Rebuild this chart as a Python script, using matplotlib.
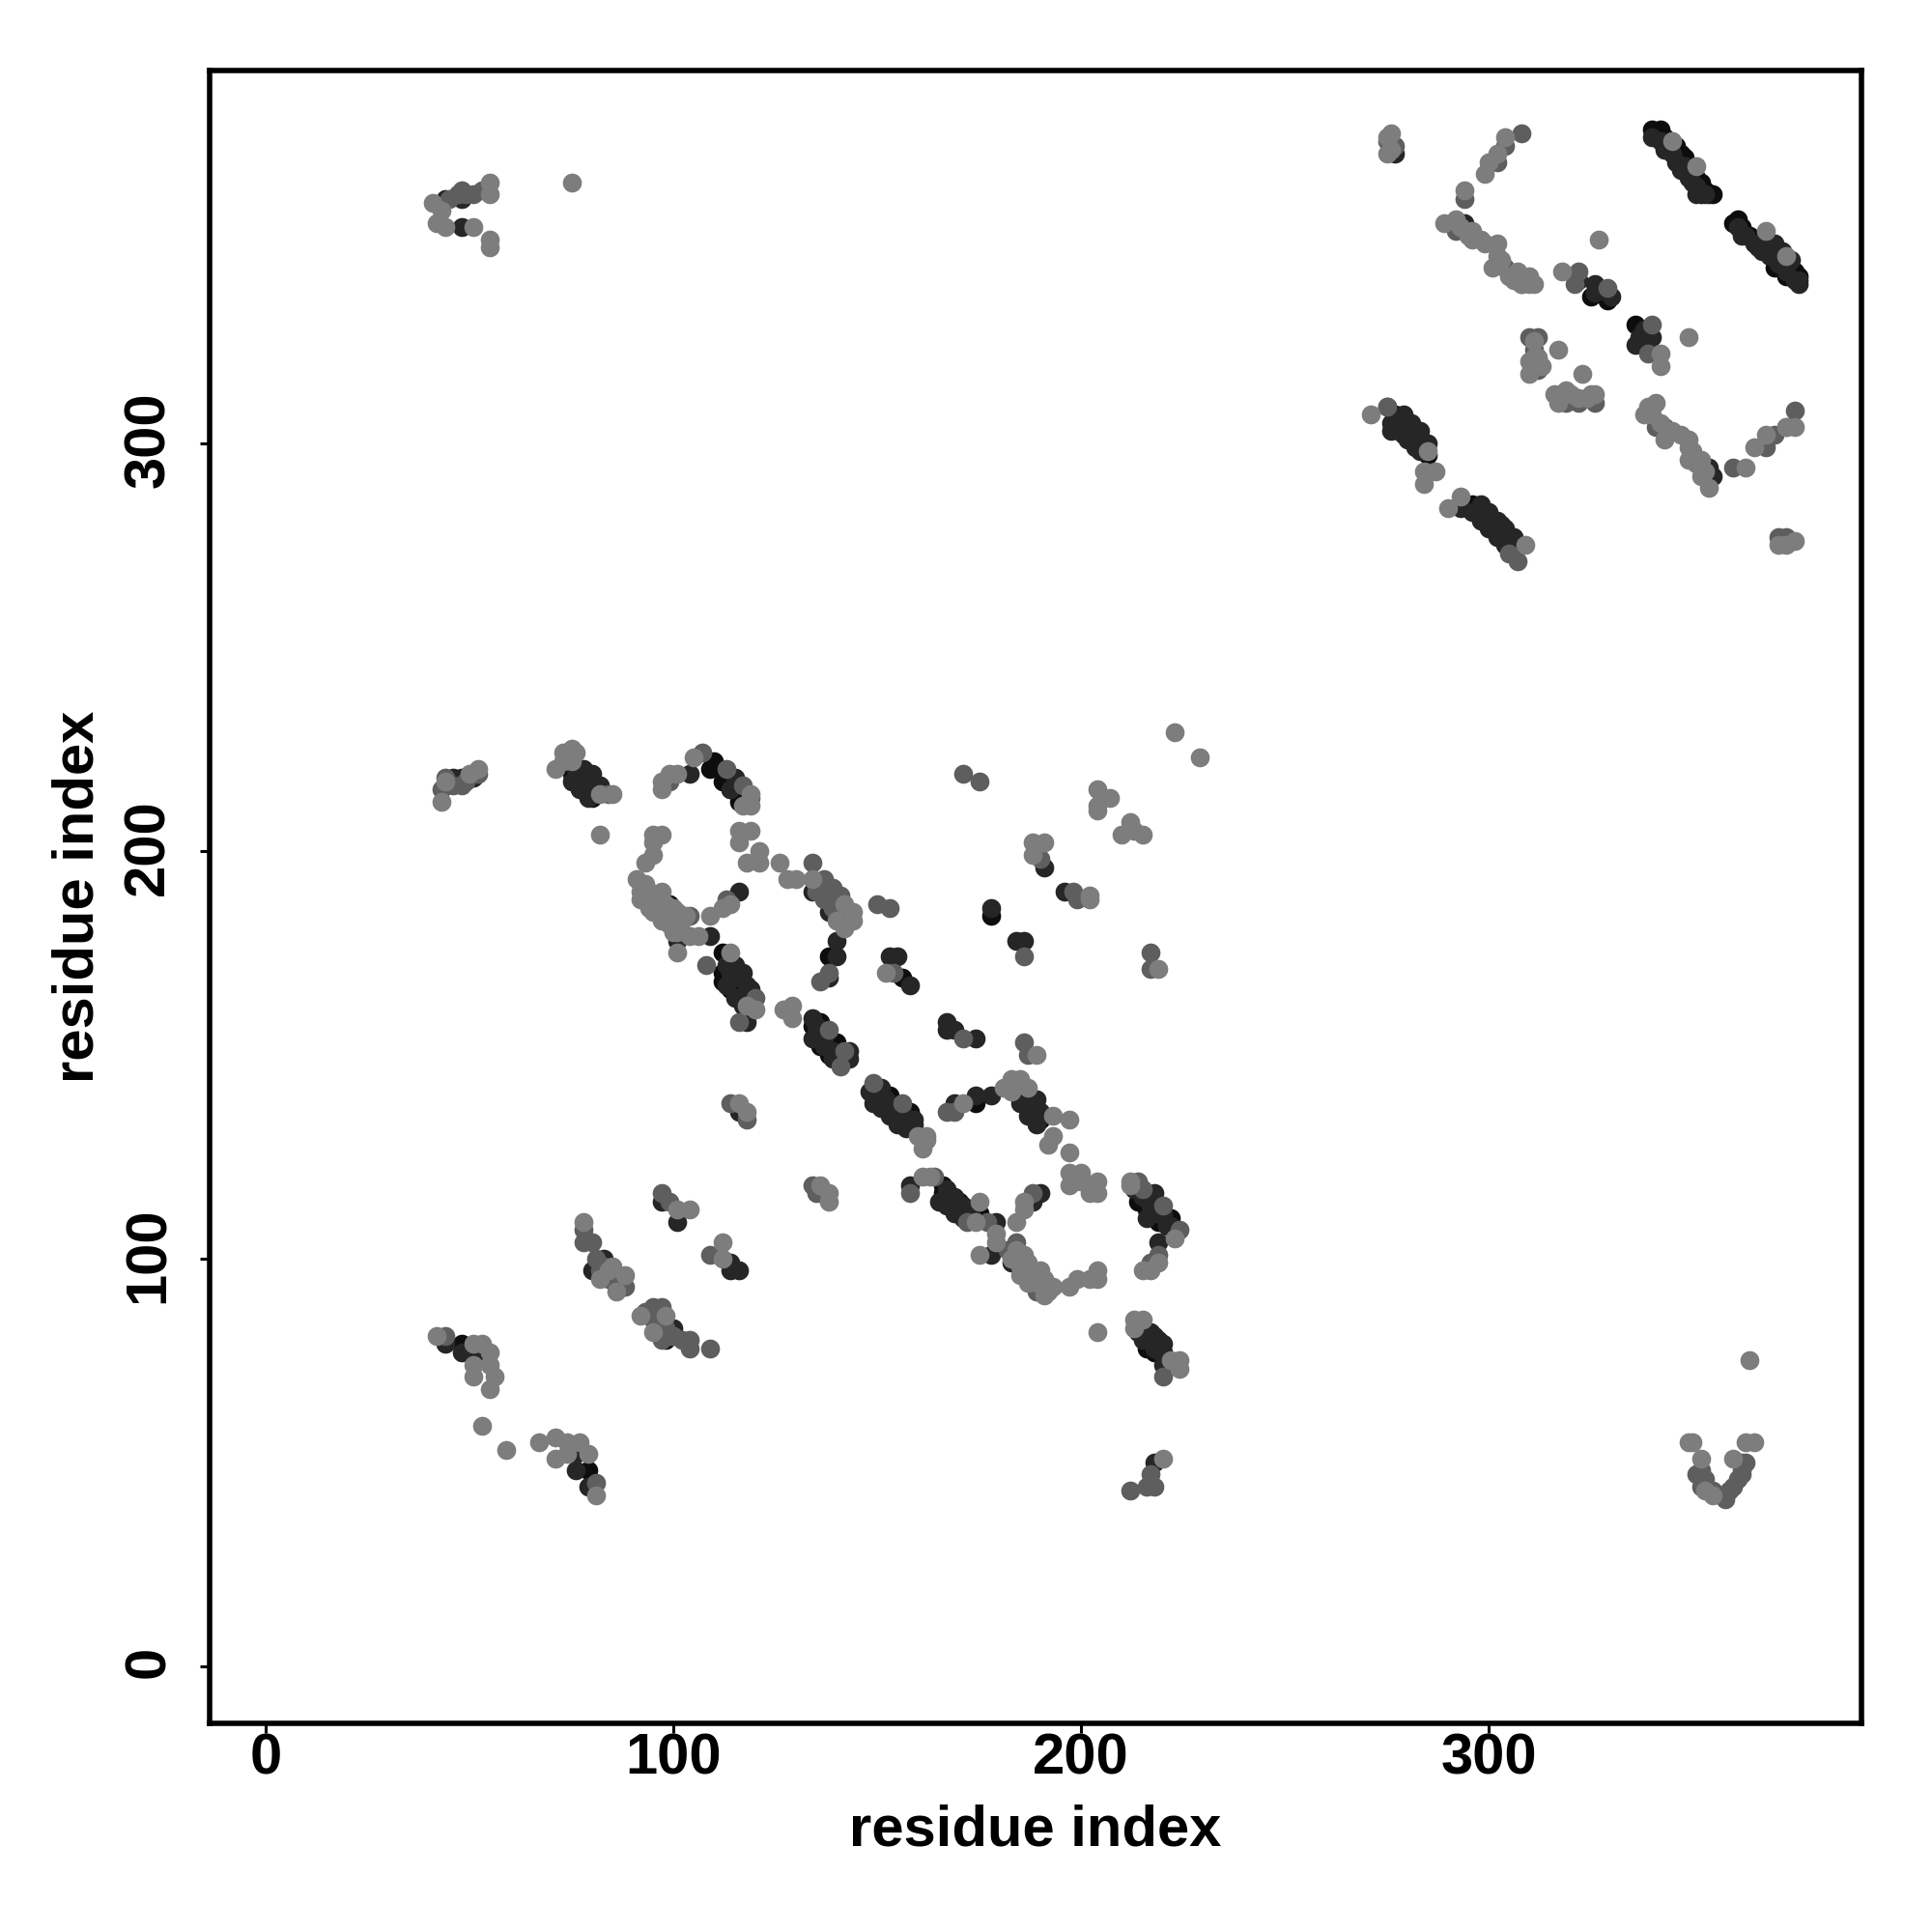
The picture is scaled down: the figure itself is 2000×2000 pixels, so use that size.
import matplotlib
matplotlib.use('Agg')
import matplotlib.pyplot as plt
from matplotlib.transforms import ScaledTranslation

# contacts, grouped by grey level (residue i, residue j)
black_pts = [
    (342, 377), (340, 377), (341, 376), (343, 375), (344, 374), (346, 373), (347, 371), (348, 370), (349, 368), (350, 366),
    (351, 365), (352, 364), (353, 362), (354, 361), (355, 361), (352, 361),
    (361, 355), (360, 354), (362, 353), (364, 351), (366, 350), (368, 349), (370, 347), (371, 345), (373, 343), (375, 342), (376, 341),
    (370, 343), (373, 341),
    (277, 307), (278, 306), (279, 305), (280, 303), (281, 302), (282, 302), (283, 300), (284, 299), (285, 297),
    (296, 285), (297, 284), (298, 283), (299, 282), (300, 281), (301, 280), (302, 279), (303, 278), (304, 277), (305, 276), (307, 275),
    (336, 329), (325, 336), (329, 335),
    (73, 221), (75, 219), (76, 217), (77, 216), (79, 215), (80, 213),
    (110, 222), (109, 220), (112, 217), (114, 215), (116, 212),
    (112, 175), (112, 170), (112, 168), (114, 166), (116, 165), (114, 170),
    (138, 174), (134, 157), (136, 158), (136, 152), (140, 153), (138, 150), (136, 155),
    (156, 169), (150, 139), (152, 137), (153, 140), (155, 135), (157, 133), (158, 136), (174, 138),
    (187, 138), (190, 134), (188, 136),
    (214, 114), (216, 112), (219, 109), (222, 110),
    (166, 118), (166, 116), (168, 114), (170, 114), (169, 113), (175, 111),
    (216, 78), (218, 77), (220, 77), (48, 79), (79, 48), (98, 80), (178, 184), (99, 187), (94, 187), (97, 184),
]
dark_pts = [
    (344, 372), (348, 368), (350, 364), (362, 351), (367, 349), (372, 345), (376, 339),
    (340, 375), (342, 374), (343, 372), (345, 371), (346, 369), (347, 367), (349, 365), (351, 363), (353, 361), (351, 361),
    (361, 353), (363, 351), (365, 349), (367, 347), (369, 346), (371, 344), (373, 342), (375, 340), (366, 348), (370, 349), (372, 347), (374, 345), (376, 340),
    (277, 371), (326, 339), (322, 340), (330, 336), (326, 337),
    (294, 354), (354, 294), (355, 292), (337, 326), (340, 326), (336, 324), (338, 328),
    (275, 309), (276, 305), (285, 293), (293, 284), (303, 280), (306, 275),
    (276, 303), (278, 303), (279, 302), (280, 301), (282, 299), (283, 298), (279, 307), (281, 305), (283, 303), (285, 300),
    (296, 283), (298, 281), (300, 279), (302, 277), (304, 275), (298, 285), (300, 283), (302, 281), (304, 279), (306, 277), (308, 275),
    (48, 218), (51, 218), (46, 218), (78, 220), (80, 219), (82, 216), (104, 219), (115, 218), (114, 215),
    (74, 222), (76, 220), (78, 218), (80, 216), (75, 217), (77, 215), (79, 213),
    (116, 190), (134, 190), (137, 191), (139, 189), (138, 185), (140, 178), (140, 174), (138, 169),
    (109, 179), (101, 178), (116, 169), (118, 167), (116, 164), (114, 170), (118, 158),
    (113, 172), (115, 172), (117, 170), (119, 166), (113, 167), (115, 164), (117, 162), (119, 163),
    (134, 159), (143, 149), (116, 136),
    (135, 157), (137, 154), (139, 151), (141, 149), (134, 154), (137, 152), (139, 149), (143, 151),
    (153, 174), (155, 174), (158, 167), (167, 158), (167, 156), (169, 156), (174, 154),
    (151, 142), (159, 134), (169, 138), (174, 140), (178, 140), (189, 139),
    (148, 141), (150, 141), (152, 139), (154, 137), (156, 136), (158, 134), (149, 138), (151, 137), (153, 135), (155, 133), (157, 132), (159, 133),
    (184, 141), (186, 140), (188, 138), (190, 136), (185, 138), (187, 135), (189, 133),
    (218, 116), (219, 104), (158, 118), (172, 112), (179, 109), (178, 101),
    (167, 117), (169, 115), (171, 113), (173, 111), (165, 114), (167, 113), (169, 111), (171, 110),
    (213, 117), (215, 115), (217, 113), (219, 111), (221, 108), (216, 115), (218, 113), (220, 111), (222, 108), (216, 110),
    (190, 116), (188, 114), (183, 99), (217, 82), (219, 80), (215, 80), (220, 74),
    (214, 82), (216, 80), (218, 78), (220, 76), (218, 81), (220, 79),
    (97, 114), (101, 109), (114, 99), (114, 97), (116, 97), (83, 100), (80, 97), (100, 83), (100, 82),
    (48, 77), (51, 76), (44, 79), (76, 52), (76, 48), (79, 44), (218, 50),
    (44, 360), (48, 360), (48, 353), (196, 190), (184, 178), (186, 178), (178, 186), (136, 116), (191, 196),
]
mid_pts = [
    (277, 373), (275, 374), (308, 376), (304, 373), (302, 369), (294, 360), (292, 352), (304, 343), (308, 339),
    (322, 342), (321, 339), (329, 338), (310, 326), (312, 326), (311, 323), (312, 318), (326, 310), (322, 310), (319, 310),
    (340, 329), (339, 322), (341, 304), (343, 304), (360, 294), (373, 304), (375, 308), (368, 299), (370, 302),
    (275, 309), (373, 277), (371, 277), (307, 271), (305, 273),
    (45, 360), (47, 361), (49, 361), (51, 361), (53, 362), (43, 215), (46, 216), (49, 217), (52, 219),
    (48, 216), (44, 218), (44, 216), (84, 214), (113, 220), (117, 216), (119, 213), (99, 217), (107, 224),
    (134, 197), (136, 191), (138, 170), (136, 168), (113, 188), (104, 184), (108, 172), (120, 164), (142, 151), (141, 147), (138, 156),
    (135, 190), (137, 188), (139, 186), (141, 184), (137, 193), (139, 191), (141, 189),
    (116, 158), (118, 134), (114, 138), (154, 170), (171, 154), (186, 153), (187, 150), (149, 143), (156, 138),
    (167, 136), (169, 136), (214, 119), (215, 117), (220, 113), (224, 107), (219, 101), (217, 99),
    (134, 118), (135, 116), (164, 120), (158, 116), (172, 109), (177, 109), (188, 116), (184, 104), (182, 102), (189, 92),
    (220, 71), (78, 104), (80, 104), (88, 93), (78, 107), (109, 101), (97, 116), (99, 114), (95, 88), (97, 88), (97, 80),
    (81, 100), (83, 98), (85, 96), (87, 94), (82, 97), (84, 95), (86, 93),
    (93, 87), (95, 85), (97, 83), (99, 81), (96, 85), (98, 83), (100, 81), (102, 80),
    (104, 80), (104, 78), (109, 78), (44, 81), (81, 45), (217, 47), (212, 43), (216, 44), (218, 44),
    (48, 362), (171, 219), (175, 217), (150, 187), (153, 186), (186, 174), (217, 175), (217, 171),
    (190, 198), (198, 190), (199, 188), (352, 48), (352, 44), (360, 44), (362, 47), (362, 50), (358, 41),
    (351, 47), (353, 46), (355, 43), (357, 42), (359, 43), (361, 46), (362, 48), (363, 50),
]
light_pts = [
    (276, 376), (275, 375), (276, 372), (275, 371), (304, 375), (302, 371), (300, 369), (299, 366), (294, 362),
    (289, 354), (292, 355), (296, 352), (296, 350), (299, 349), (302, 349), (302, 346), (301, 343), (305, 341), (310, 341), (308, 339), (310, 339),
    (293, 353), (295, 351), (298, 350), (303, 345), (306, 340), (307, 342), (309, 340), (311, 339),
    (327, 350), (318, 342), (351, 368), (345, 374), (373, 346), (368, 352), (317, 323), (313, 319), (310, 317), (311, 321),
    (311, 325), (312, 321), (310, 320), (311, 319), (316, 312), (318, 312), (320, 312), (324, 311), (325, 312), (317, 311),
    (323, 317), (319, 313), (317, 310), (322, 311), (326, 312), (349, 326), (342, 322), (342, 319),
    (341, 310), (339, 309), (338, 307), (343, 301), (347, 302), (349, 301), (349, 299), (352, 296), (349, 296), (352, 292), (354, 289),
    (340, 307), (342, 305), (345, 303), (350, 298), (351, 295), (353, 293),
    (363, 294), (365, 299), (368, 302), (373, 304), (375, 304), (271, 307), (285, 298), (287, 293), (284, 293), (284, 290),
    (293, 287), (290, 284), (309, 275), (371, 275), (373, 275), (375, 276),
    (43, 212), (44, 217), (52, 220), (50, 219), (71, 220), (73, 224), (75, 225), (75, 222), (73, 222), (76, 224), (85, 214), (82, 214), (82, 204),
    (97, 215), (97, 217), (99, 219), (101, 219), (105, 223), (119, 214), (117, 211), (119, 211),
    (95, 204), (97, 204), (95, 202), (95, 199), (93, 197), (116, 205), (119, 205), (116, 202), (121, 200), (118, 197), (121, 197),
    (126, 197), (128, 193), (130, 193), (134, 193), (142, 187), (144, 185), (140, 183), (144, 183), (142, 181),
    (91, 193), (93, 192), (92, 190), (97, 190), (98, 187), (97, 184), (101, 185), (99, 182), (101, 183),
    (94, 190), (95, 188), (96, 186), (98, 185), (99, 184), (100, 186), (102, 183), (103, 184), (100, 180), (92, 188), (94, 186), (95, 185), (97, 183),
    (109, 184), (112, 186), (114, 187), (104, 179), (106, 179), (101, 175), (101, 180), (114, 175), (118, 162), (120, 161),
    (127, 161), (129, 162), (129, 159), (116, 138), (118, 136), (152, 170), (189, 150), (171, 138), (181, 142), (183, 144), (185, 144), (183, 141), (187, 142),
    (193, 135), (197, 134), (193, 130), (192, 128), (197, 126), (160, 130), (162, 130), (161, 127), (162, 129),
    (197, 121), (200, 121), (197, 118), (200, 119), (202, 116), (204, 119), (204, 116), (212, 119), (212, 118), (223, 105), (219, 99), (215, 97), (217, 97),
    (136, 118), (138, 116), (138, 114), (161, 120), (163, 120), (175, 114), (174, 109), (179, 106), (179, 104), (175, 101),
    (186, 114), (186, 112), (184, 109), (186, 101), (187, 99), (185, 96), (190, 97), (187, 94), (191, 95), (193, 93), (191, 91),
    (184, 102), (186, 99), (188, 97), (190, 95), (183, 100), (185, 98), (187, 96), (189, 94), (192, 92),
    (197, 93), (199, 95), (202, 95), (204, 97), (204, 95), (204, 82), (213, 85), (215, 85), (213, 83), (224, 75), (222, 75), (224, 73),
    (220, 51), (101, 112), (104, 112), (112, 104), (112, 100), (78, 109), (85, 98), (82, 95), (88, 96), (86, 92), (84, 97),
    (92, 86), (98, 86), (95, 82), (42, 81), (51, 79), (53, 79), (55, 77), (51, 74), (55, 74), (51, 71), (56, 71), (55, 68), (53, 59), (59, 53),
    (67, 55), (71, 56), (74, 55), (77, 55), (71, 51), (74, 52), (79, 52), (81, 42),
    (55, 364), (55, 361), (41, 359), (43, 357), (42, 354), (44, 353), (51, 353), (55, 350), (55, 348),
    (223, 229), (229, 223), (204, 215), (207, 213), (204, 211), (204, 210), (212, 207), (210, 204), (213, 205), (215, 204),
    (188, 202), (191, 202), (188, 199), (202, 189), (202, 188), (219, 171),
    (349, 55), (350, 55), (363, 55), (365, 55), (352, 51), (355, 42), (360, 51), (353, 43),
    (75, 364), (364, 75),
]
grey_levels = [0.05, 0.15, 0.37, 0.49]
tick_vals = [0, 100, 200, 300]

plt.rcParams['font.family'] = ['Liberation Sans', 'DejaVu Sans']
plt.rcParams['font.weight'] = 'bold'

fig = plt.figure(figsize=(20, 20), dpi=100)
ax = fig.add_axes([216.5 / 2000, 1 - 1783.5 / 2000, 1710.5 / 2000, 1710.5 / 2000])

for pts, g in zip([black_pts, dark_pts, mid_pts, light_pts], grey_levels):
    xs = [p[0] for p in pts]
    ys = [p[1] for p in pts]
    ax.scatter(xs, ys, s=200, color=str(g), linewidths=0, zorder=2)

ax.set_xlim(-13.9, 391.4)
ax.set_ylim(-13.9, 391.4)
ax.set_xticks(tick_vals)
ax.set_yticks(tick_vals)
ax.tick_params(length=7, width=2.2, labelsize=43)
ax.tick_params(axis='x', pad=0)
ax.tick_params(axis='y', pad=18)
# nudge the rotated y labels up a little so they sit on their ticks
nudge = ScaledTranslation(0, 4 / 100, fig.dpi_scale_trans)
for lab in ax.get_yticklabels():
    lab.set_rotation(90)
    lab.set_va('center')
    lab.set_transform(lab.get_transform() + nudge)
for sp in ax.spines.values():
    sp.set_linewidth(4)

ax.set_xlabel('residue index', fontsize=43, fontweight='bold', labelpad=14)
ax.set_ylabel('residue index', fontsize=43, fontweight='bold', labelpad=13)

fig.savefig('out.png', dpi=100)
